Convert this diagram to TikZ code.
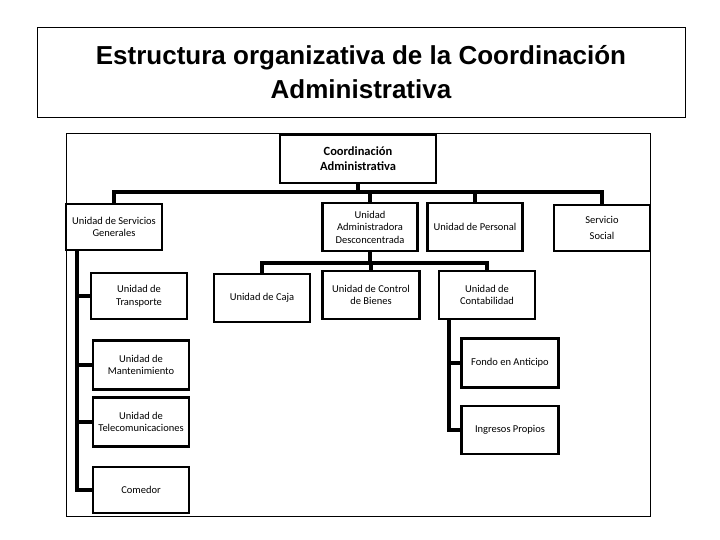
\documentclass[tikz,border=0pt]{standalone}
\usepackage{fontspec}
\setmainfont{Carlito}
\newfontfamily\titlefont{Liberation Sans}
\begin{document}
\begin{tikzpicture}[x=1pt,y=-1pt,
  bx/.style={draw,line width=2.6pt,align=center,font=\fontsize{10.5}{12.5}\selectfont,inner sep=1pt},
  ln/.style={line width=3.5pt}]
\useasboundingbox (0,0) rectangle (720,540);
\draw[line width=0.8pt] (37,27) rectangle (685,117);
\node[font=\titlefont\bfseries\fontsize{26}{34}\selectfont,align=center] (title) at (361,72) {Estructura organizativa de la Coordinación\\Administrativa};
\draw[line width=0.8pt] (66,133) rectangle (650,516);
% boxes
\node[bx,minimum width=156,minimum height=48,font=\bfseries\fontsize{12.5}{15}\selectfont] (ca) at (358,159) {Coordinación\\Administrativa};
\node[bx,minimum width=96,minimum height=46] (usg) at (114,227) {Unidad de Servicios\\Generales};
\node[bx,minimum width=95,minimum height=48] (uad) at (370,227) {Unidad\\Administradora\\Desconcentrada};
\node[bx,minimum width=95,minimum height=48] (up) at (475,227) {Unidad de Personal};
\node[bx,minimum width=96,minimum height=46] (ss) at (602,228) {Servicio\\[4pt]Social};
\node[bx,minimum width=96,minimum height=48] (caja) at (262,298) {Unidad de Caja};
\node[bx,minimum width=97,minimum height=48] (cb) at (371,295) {Unidad de Control\\de Bienes};
\node[bx,minimum width=96,minimum height=48] (cont) at (487,295) {Unidad de\\Contabilidad};
\node[bx,minimum width=96,minimum height=46] (tr) at (139,296) {Unidad de\\Transporte};
\node[bx,minimum width=96,minimum height=49] (mt) at (141,365) {Unidad de\\Mantenimiento};
\node[bx,minimum width=96,minimum height=49] (tc) at (141,422) {Unidad de\\Telecomunicaciones};
\node[bx,minimum width=96,minimum height=46] (co) at (141,490) {Comedor};
\node[bx,minimum width=97,minimum height=49] (fa) at (510,363) {Fondo en Anticipo};
\node[bx,minimum width=97,minimum height=48] (ip) at (510,430) {Ingresos Propios};
% connectors
\coordinate (b1) at (ca.south |- 0,192);
\draw[ln] (ca.south) -- (b1);
\draw[ln] (usg.north) -- (usg.north |- b1) -- (ss.north |- b1) -- (ss.north);
\draw[ln] (uad.north |- b1) -- (uad.north);
\draw[ln] (up.north |- b1) -- (up.north);
\coordinate (b2) at (uad.south |- 0,263);
\draw[ln] (uad.south) -- (b2);
\draw[ln] (caja.north) -- (caja.north |- b2) -- (cont.north |- b2) -- (cont.north);
\draw[ln] (cb.north |- b2) -- (cb.north);
\coordinate (ls) at (77,250);
\draw[ln] (ls) -- (77,490) -- (co.west);
\draw[ln] (77,296) -- (tr.west);
\draw[ln] (77,365) -- (mt.west);
\draw[ln] (77,422) -- (tc.west);
\coordinate (rs) at (449,319);
\draw[ln] (rs) -- (449,430) -- (ip.west);
\draw[ln] (449,363) -- (fa.west);
\end{tikzpicture}
\end{document}
